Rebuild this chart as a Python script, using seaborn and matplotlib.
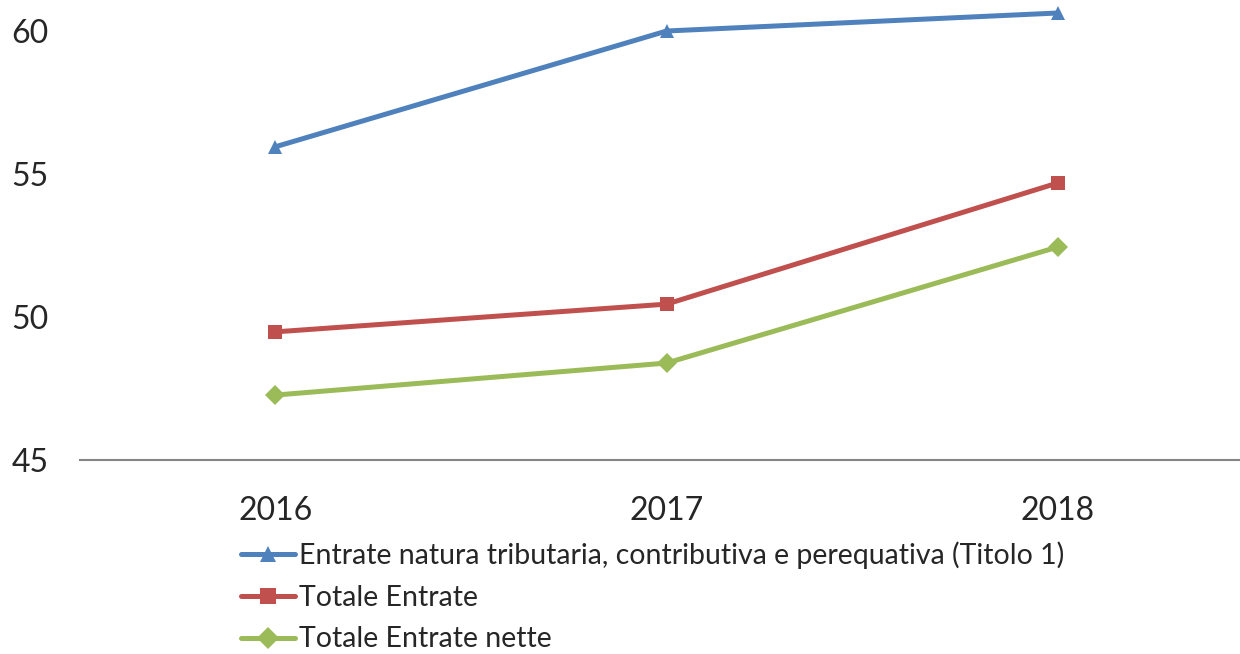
import matplotlib
matplotlib.use("Agg")
import matplotlib.pyplot as plt
import seaborn as sns
import pandas as pd

years = ["2016", "2017", "2018"]
series_names = [
    "Entrate natura tributaria, contributiva e perequativa (Titolo 1)",
    "Totale Entrate",
    "Totale Entrate nette",
]
titolo1 = [55.95, 60.0, 60.63]
totale = [49.48, 50.45, 54.69]
nette = [47.27, 48.39, 52.45]
yticks = [45, 50, 55, 60]

colors = ["#4F81BD", "#C0504D", "#9BBB59"]
markers = ["^", "s", "D"]

sns.set_theme(style="white")
plt.rcParams['font.family'] = ['Lato', 'DejaVu Sans']

rows = []
for name, vals in zip(series_names, [titolo1, totale, nette]):
    for y, v in zip(years, vals):
        rows.append({"Anno": y, "Valore": v, "Serie": name})
df = pd.DataFrame(rows)

W, H = 1240, 654
fig = plt.figure(figsize=(W / 100, H / 100), dpi=100)
x0, x1 = 79.5, 1240
y_bottom, y_top = 460, 2.4
ax = fig.add_axes([x0 / W, 1 - y_bottom / H, (x1 - x0) / W, (y_bottom - y_top) / H])

sns.lineplot(data=df, x="Anno", y="Valore", hue="Serie", style="Serie",
             hue_order=series_names, style_order=series_names,
             palette=colors, markers=dict(zip(series_names, markers)),
             dashes=False, linewidth=3.6, markersize=10, markeredgewidth=0,
             ax=ax, legend=True, sort=False)

ax.set_xlim(-0.5, (1240 - 275) / 391.5)
ax.set_ylim(45, 61)
ax.set_yticks(yticks)
ax.set_yticklabels([str(t) for t in yticks], fontsize=23)
ax.set_xlabel("")
ax.set_ylabel("")
ax.tick_params(axis="x", labelsize=23, length=0, pad=26)
ax.tick_params(axis="y", length=0, pad=49)
for lab in ax.get_yticklabels():
    lab.set_horizontalalignment("left")
for s in ["top", "right", "left"]:
    ax.spines[s].set_visible(False)
ax.spines["bottom"].set_color("#868686")
ax.spines["bottom"].set_linewidth(1.5)
ax.grid(False)

handles, labels = ax.get_legend_handles_labels()
ax.get_legend().remove()
leg = fig.legend(handles, labels, loc="upper left",
                 bbox_to_anchor=(241 / W, 1 - 541 / H), frameon=False,
                 fontsize=20.5, handlelength=1.9, handletextpad=0.12,
                 labelspacing=0.56, borderaxespad=0, borderpad=0)
for h in leg.legend_handles:
    h.set_linewidth(3.6)
    h.set_markersize(11)

fig.savefig("out.png", dpi=100)
